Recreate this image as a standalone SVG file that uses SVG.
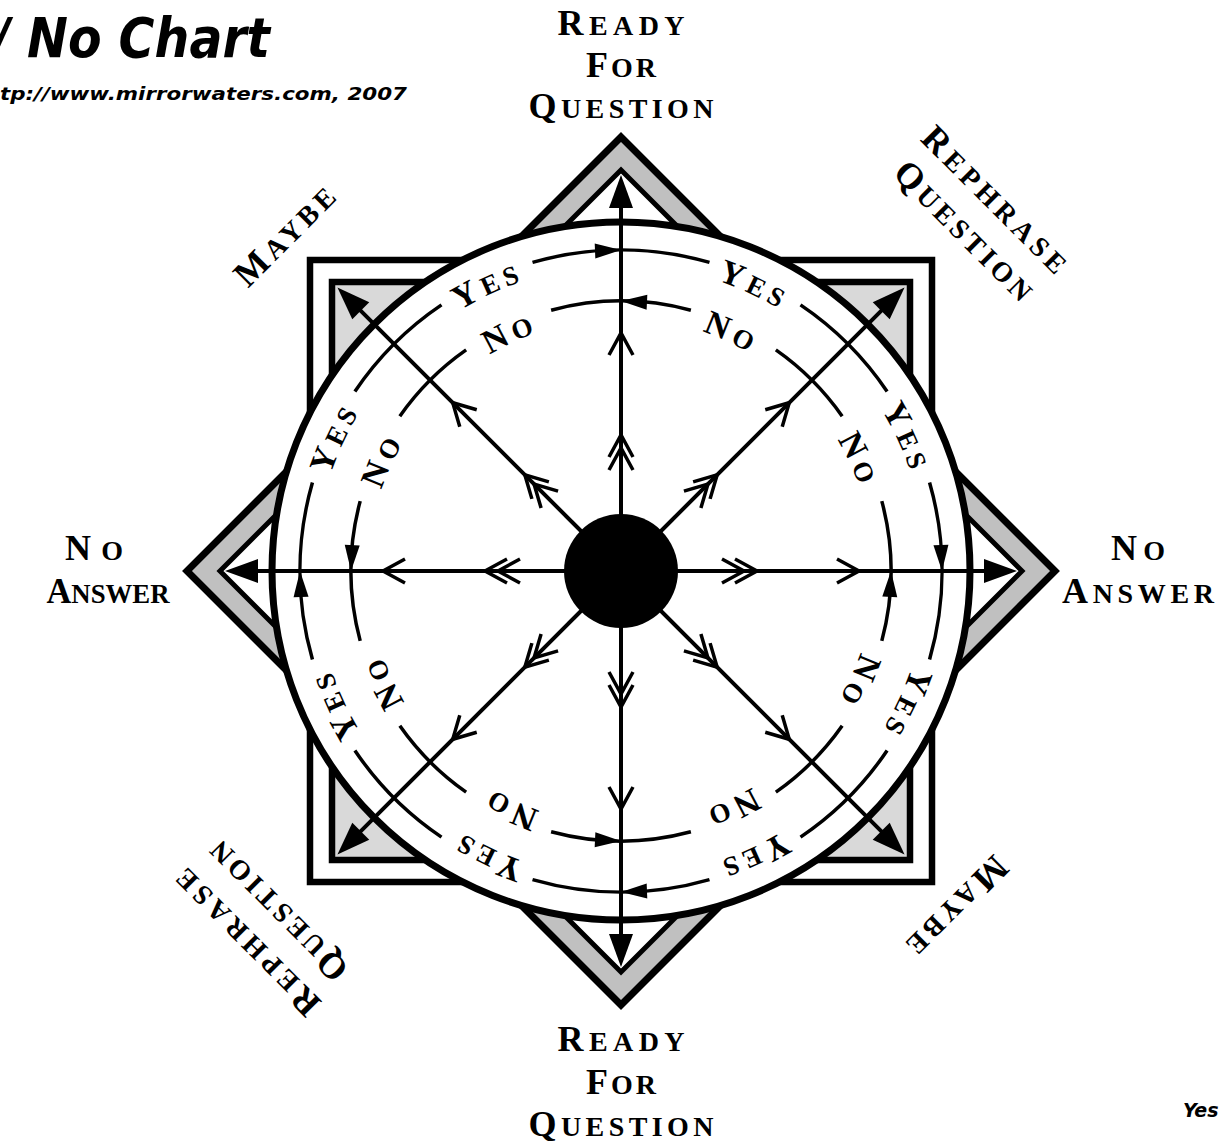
<svg xmlns="http://www.w3.org/2000/svg" xmlns:xlink="http://www.w3.org/1999/xlink" width="1221" height="1148" viewBox="0 0 1221 1148">
<style>
.lbl{font-family:"Liberation Serif","Times New Roman",serif;font-weight:bold;fill:#000;text-anchor:middle;font-size:36px}
.sc{font-size:28px}
.ring{font-family:"Liberation Serif","Times New Roman",serif;font-weight:bold;fill:#000;font-size:34px;letter-spacing:5px;text-anchor:middle}
.rs{font-size:27px}
.title{font-family:"DejaVu Sans","Verdana",sans-serif;font-weight:bold;font-style:italic;fill:#000}
.spoke{stroke:#000;stroke-width:4;fill:none}
.chev{stroke:#000;stroke-width:3.5;fill:none;stroke-linejoin:miter}
.arc{stroke:#000;stroke-width:3.5;fill:none}
.frame{stroke:#000;stroke-linejoin:miter}
.head{fill:#000;stroke:none}
</style>
<defs>
<path id="chev" class="chev" d="M-22,-12 L0,0 L-22,12"/>
<path id="ah" class="head" d="M0,0 L-26,-7.5 L-26,7.5 Z"/>
<g id="spokeC">
<line class="spoke" x1="0" y1="0" x2="370" y2="0"/>
<path class="head" d="M396,0 L363,-12 L363,12 Z"/>
<use xlink:href="#chev" href="#chev" x="123"/>
<use xlink:href="#chev" href="#chev" x="136"/>
<use xlink:href="#chev" href="#chev" x="238"/>
</g>
<g id="spokeD">
<line class="spoke" x1="0" y1="0" x2="375" y2="0"/>
<path class="head" d="M401,0 L368,-12 L368,12 Z"/>
<use xlink:href="#chev" href="#chev" x="123"/>
<use xlink:href="#chev" href="#chev" x="136"/>
<use xlink:href="#chev" href="#chev" x="238"/>
</g>
<g id="ringC">
<path class="arc" d="M532.52,262.44 A321,321 0 0 1 709.48,262.44"/>
<path class="arc" d="M551.12,310.20 A270,270 0 0 1 690.88,310.20"/>
<use xlink:href="#ah" href="#ah" transform="translate(621,250) rotate(-2.3)"/>
<use xlink:href="#ah" href="#ah" transform="translate(621,301) rotate(182.7)"/>
</g>
<g id="ringD">
<path class="arc" d="M559.75,255.90 A321,321 0 0 1 682.25,255.90"/>
<path class="arc" d="M574.11,305.10 A270,270 0 0 1 667.89,305.10"/>
</g>
<path id="pathYes" d="M621,265 A306,306 0 1 1 621,877 A306,306 0 1 1 621,265"/>
<path id="pathNo" d="M621,318 A253,253 0 1 1 621,824 A253,253 0 1 1 621,318"/>
</defs>
<rect x="0" y="0" width="1221" height="1148" fill="#fff"/>

<g id="frame">
<polygon class="frame" points="621,137 1055,571 621,1005 187,571" fill="#c0c0c0" stroke-width="7"/>
<polygon class="frame" points="621,170 1022,571 621,972 220,571" fill="#fff" stroke-width="5"/>
<rect class="frame" x="310" y="260" width="622" height="622" fill="#fff" stroke-width="6.5"/>
<rect class="frame" x="332" y="282" width="578" height="578" fill="#d9d9d9" stroke-width="6.5"/>
<circle class="frame" cx="621" cy="571" r="349" fill="#fff" stroke-width="7"/>
</g>

<g id="connectors">
<use xlink:href="#ringC" href="#ringC"/>
<use xlink:href="#ringC" href="#ringC" transform="rotate(90 621 571)"/>
<use xlink:href="#ringC" href="#ringC" transform="rotate(180 621 571)"/>
<use xlink:href="#ringC" href="#ringC" transform="rotate(270 621 571)"/>
<use xlink:href="#ringD" href="#ringD" transform="rotate(45 621 571)"/>
<use xlink:href="#ringD" href="#ringD" transform="rotate(135 621 571)"/>
<use xlink:href="#ringD" href="#ringD" transform="rotate(225 621 571)"/>
<use xlink:href="#ringD" href="#ringD" transform="rotate(315 621 571)"/>
<use xlink:href="#spokeC" href="#spokeC" transform="translate(621,571) rotate(-90)"/>
<use xlink:href="#spokeC" href="#spokeC" transform="translate(621,571) rotate(0)"/>
<use xlink:href="#spokeC" href="#spokeC" transform="translate(621,571) rotate(90)"/>
<use xlink:href="#spokeC" href="#spokeC" transform="translate(621,571) rotate(180)"/>
<use xlink:href="#spokeD" href="#spokeD" transform="translate(621,571) rotate(-45)"/>
<use xlink:href="#spokeD" href="#spokeD" transform="translate(621,571) rotate(45)"/>
<use xlink:href="#spokeD" href="#spokeD" transform="translate(621,571) rotate(135)"/>
<use xlink:href="#spokeD" href="#spokeD" transform="translate(621,571) rotate(-135)"/>
</g>

<g id="node-center">
<circle cx="621" cy="571" r="57" fill="#000"/>
</g>

<g id="ring-labels">
<text class="ring"><textPath xlink:href="#pathYes" href="#pathYes" startOffset="6.944%">Y<tspan class="rs">ES</tspan></textPath></text>
<text class="ring"><textPath xlink:href="#pathYes" href="#pathYes" startOffset="18.056%">Y<tspan class="rs">ES</tspan></textPath></text>
<text class="ring"><textPath xlink:href="#pathYes" href="#pathYes" startOffset="31.944%">Y<tspan class="rs">ES</tspan></textPath></text>
<text class="ring"><textPath xlink:href="#pathYes" href="#pathYes" startOffset="43.056%">Y<tspan class="rs">ES</tspan></textPath></text>
<text class="ring"><textPath xlink:href="#pathYes" href="#pathYes" startOffset="56.944%">Y<tspan class="rs">ES</tspan></textPath></text>
<text class="ring"><textPath xlink:href="#pathYes" href="#pathYes" startOffset="68.056%">Y<tspan class="rs">ES</tspan></textPath></text>
<text class="ring"><textPath xlink:href="#pathYes" href="#pathYes" startOffset="81.944%">Y<tspan class="rs">ES</tspan></textPath></text>
<text class="ring"><textPath xlink:href="#pathYes" href="#pathYes" startOffset="93.056%">Y<tspan class="rs">ES</tspan></textPath></text>
<text class="ring"><textPath xlink:href="#pathNo" href="#pathNo" startOffset="6.944%">N<tspan class="rs">O</tspan></textPath></text>
<text class="ring"><textPath xlink:href="#pathNo" href="#pathNo" startOffset="18.056%">N<tspan class="rs">O</tspan></textPath></text>
<text class="ring"><textPath xlink:href="#pathNo" href="#pathNo" startOffset="31.944%">N<tspan class="rs">O</tspan></textPath></text>
<text class="ring"><textPath xlink:href="#pathNo" href="#pathNo" startOffset="43.056%">N<tspan class="rs">O</tspan></textPath></text>
<text class="ring"><textPath xlink:href="#pathNo" href="#pathNo" startOffset="56.944%">N<tspan class="rs">O</tspan></textPath></text>
<text class="ring"><textPath xlink:href="#pathNo" href="#pathNo" startOffset="68.056%">N<tspan class="rs">O</tspan></textPath></text>
<text class="ring"><textPath xlink:href="#pathNo" href="#pathNo" startOffset="81.944%">N<tspan class="rs">O</tspan></textPath></text>
<text class="ring"><textPath xlink:href="#pathNo" href="#pathNo" startOffset="93.056%">N<tspan class="rs">O</tspan></textPath></text>
</g>

<g id="node-ready-top">
<text class="lbl" x="621" y="35" textLength="127" lengthAdjust="spacing">R<tspan class="sc">EADY</tspan></text>
<text class="lbl" x="621" y="77" textLength="70" lengthAdjust="spacing">F<tspan class="sc">OR</tspan></text>
<text class="lbl" x="621" y="118" textLength="185" lengthAdjust="spacing">Q<tspan class="sc">UESTION</tspan></text>
</g>
<g id="node-ready-bottom">
<text class="lbl" x="621" y="1051" textLength="127" lengthAdjust="spacing">R<tspan class="sc">EADY</tspan></text>
<text class="lbl" x="621" y="1094" textLength="70" lengthAdjust="spacing">F<tspan class="sc">OR</tspan></text>
<text class="lbl" x="621" y="1136" textLength="185" lengthAdjust="spacing">Q<tspan class="sc">UESTION</tspan></text>
</g>
<g id="node-noanswer-left">
<text class="lbl" x="94" y="560" textLength="58" lengthAdjust="spacing">N<tspan class="sc">O</tspan></text>
<text class="lbl" x="108" y="603" textLength="123" lengthAdjust="spacingAndGlyphs">A<tspan class="sc">NSWER</tspan></text>
</g>
<g id="node-noanswer-right">
<text class="lbl" x="1138" y="560" textLength="54" lengthAdjust="spacing">N<tspan class="sc">O</tspan></text>
<text class="lbl" x="1138" y="603" textLength="152" lengthAdjust="spacing">A<tspan class="sc">NSWER</tspan></text>
</g>
<g id="node-rephrase-tr" transform="translate(995,200) rotate(45)">
<text class="lbl" x="0" y="11" textLength="192" lengthAdjust="spacing">R<tspan class="sc">EPHRASE</tspan></text>
<text class="lbl" x="0" y="55" textLength="182" lengthAdjust="spacing">Q<tspan class="sc">UESTION</tspan></text>
</g>
<g id="node-rephrase-bl" transform="translate(247,942) rotate(225)">
<text class="lbl" x="0" y="11" textLength="192" lengthAdjust="spacing">R<tspan class="sc">EPHRASE</tspan></text>
<text class="lbl" x="0" y="55" textLength="182" lengthAdjust="spacing">Q<tspan class="sc">UESTION</tspan></text>
</g>
<g id="node-maybe-tl" transform="translate(285,236) rotate(-45)">
<text class="lbl" x="0" y="11" textLength="127" lengthAdjust="spacing">M<tspan class="sc">AYBE</tspan></text>
</g>
<g id="node-maybe-br" transform="translate(957,906) rotate(135)">
<text class="lbl" x="0" y="11" textLength="127" lengthAdjust="spacing">M<tspan class="sc">AYBE</tspan></text>
</g>

<g id="title">
<text class="title" x="-8" y="57" font-size="56" textLength="278" lengthAdjust="spacingAndGlyphs">/ No Chart</text>
<text class="title" x="0" y="100" font-size="18" textLength="407" lengthAdjust="spacingAndGlyphs">tp://www.mirrorwaters.com, 2007</text>
<text class="title" x="1183" y="1117" font-size="19">Yes</text>
</g>
</svg>
